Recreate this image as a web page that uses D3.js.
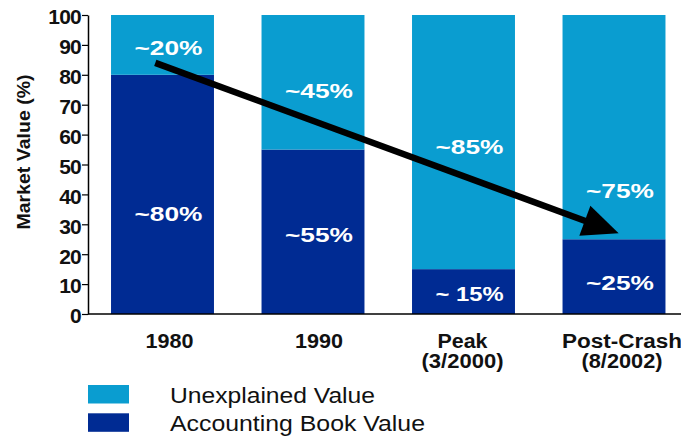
<!DOCTYPE html>
<html>
<head>
<meta charset="utf-8">
<script src="https://cdn.jsdelivr.net/npm/d3@7"></script>
<style>
  html, body { margin: 0; padding: 0; background: #fff; }
  svg { display: block; }
  text { font-family: "Liberation Sans", Arial, Helvetica, sans-serif; }
</style>
</head>
<body>
<svg id="chart" width="681" height="437"></svg>
<script>
// ---- data ----
const categories = ["1980", "1990", "Peak", "Post-Crash"];
const categoryLines = [["1980"], ["1990"], ["Peak", "(3/2000)"], ["Post-Crash", "(8/2002)"]];
const bookValue = [80, 55, 15, 25];
const unexplainedValue = [20, 45, 85, 75];
const bookLabels = ["~80%", "~55%", "~ 15%", "~25%"];
const unexplainedLabels = ["~20%", "~45%", "~85%", "~75%"];
const bookLabelAt = [33.6, 26.4, 6.9, 10.4];
const unexplainedLabelAt = [89.1, 74.7, 56.0, 41.1];
const yTicks = [0, 10, 20, 30, 40, 50, 60, 70, 80, 90, 100];
const seriesNames = ["Unexplained Value", "Accounting Book Value"];
const yTitle = "Market Value (%)";
const arrowFrom = { cat: "1980", value: 84 };
const arrowTo = { cat: "Post-Crash", value: 27 };

// ---- styles ----
const colLight = "#0a9dd0";
const colDark = "#002b93";

const svg = d3.select("#chart");

const x = d3.scaleBand()
  .domain(categories)
  .range([88, 688.5])
  .paddingInner(0.316)
  .paddingOuter(0.153);

const y = d3.scaleLinear().domain([0, 100]).range([314, 15]);

const rows = categories.map((c, i) => ({ cat: c, book: bookValue[i], unexp: unexplainedValue[i] }));
const stack = d3.stack().keys(["book", "unexp"]);
const series = stack(rows);
const colors = { book: colDark, unexp: colLight };

// bars
svg.append("g").selectAll("g")
  .data(series)
  .join("g")
  .attr("fill", d => colors[d.key])
  .selectAll("rect")
  .data(d => d)
  .join("rect")
  .attr("x", d => x(d.data.cat))
  .attr("width", x.bandwidth())
  .attr("y", d => y(d[1]))
  .attr("height", d => y(d[0]) - y(d[1]));

// value labels
const labelOffset = 6;
function addLabels(labels, at) {
  svg.append("g").selectAll("text")
    .data(categories)
    .join("text")
    .attr("x", c => x(c) + x.bandwidth() / 2 + labelOffset)
    .attr("y", (c, i) => y(at[i]))
    .attr("dy", "0.36em")
    .attr("text-anchor", "middle")
    .attr("fill", "#fff")
    .attr("font-weight", "bold")
    .attr("font-size", 20)
    .attr("textLength", 68)
    .attr("lengthAdjust", "spacingAndGlyphs")
    .text((c, i) => labels[i]);
}
addLabels(unexplainedLabels, unexplainedLabelAt);
addLabels(bookLabels, bookLabelAt);

// arrow
const ax1 = x(arrowFrom.cat) + x.bandwidth() * 0.43, ay1 = y(arrowFrom.value);
const ax2 = x(arrowTo.cat) + x.bandwidth() * 0.545, ay2 = y(arrowTo.value);
const ang = Math.atan2(ay2 - ay1, ax2 - ax1);
const headLen = 36, headHalf = 16;
const bx = ax2 - headLen * Math.cos(ang), by = ay2 - headLen * Math.sin(ang);
svg.append("line")
  .attr("x1", ax1).attr("y1", ay1)
  .attr("x2", bx + 2 * Math.cos(ang)).attr("y2", by + 2 * Math.sin(ang))
  .attr("stroke", "#000").attr("stroke-width", 6.5);
svg.append("polygon")
  .attr("points", [
    [ax2, ay2],
    [bx - headHalf * Math.sin(ang), by + headHalf * Math.cos(ang)],
    [bx + headHalf * Math.sin(ang), by - headHalf * Math.cos(ang)]
  ].map(p => p.join(",")).join(" "))
  .attr("fill", "#000");

// y axis
const yAxis = svg.append("g")
  .attr("transform", "translate(88,0)")
  .call(d3.axisLeft(y).tickValues(yTicks).tickSize(6).tickSizeOuter(0).tickPadding(1).tickFormat(d3.format("d")));
yAxis.select(".domain").attr("stroke", "#000").attr("stroke-width", 1.5);
yAxis.selectAll(".tick line").attr("stroke", "#000").attr("stroke-width", 1.2);
yAxis.selectAll(".tick text")
  .attr("font-family", "'Liberation Sans', Arial, sans-serif")
  .attr("font-size", 21)
  .attr("font-weight", "bold")
  .attr("letter-spacing", -0.8)
  .attr("fill", "#111")
  .attr("dy", "0.42em");

// x axis line
svg.append("line")
  .attr("x1", 88).attr("x2", 681)
  .attr("y1", y(0)).attr("y2", y(0))
  .attr("stroke", "#000").attr("stroke-width", 1.5);

// x category labels
const lineWidths = { "1980": 48, "1990": 48, "Peak": 50, "(3/2000)": 82, "Post-Crash": 120, "(8/2002)": 81 };
const catShift = [7, 6, -1, 8];
categories.forEach((c, i) => {
  categoryLines[i].forEach((ln, j) => {
    svg.append("text")
      .attr("x", x(c) + x.bandwidth() / 2 + catShift[i])
      .attr("y", 348 + j * 20)
      .attr("text-anchor", "middle")
      .attr("font-weight", "bold")
      .attr("font-size", 20)
      .attr("fill", "#111")
      .attr("textLength", lineWidths[ln])
      .attr("lengthAdjust", "spacingAndGlyphs")
      .text(ln);
  });
});

// y title
svg.append("text")
  .attr("transform", "translate(30,152) rotate(-90)")
  .attr("text-anchor", "middle")
  .attr("font-weight", "bold")
  .attr("font-size", 18)
  .attr("fill", "#111")
  .attr("textLength", 155)
  .attr("lengthAdjust", "spacingAndGlyphs")
  .text(yTitle);

// legend
const legendColors = [colLight, colDark];
const legendTextWidths = [205, 255];
seriesNames.forEach((n, i) => {
  svg.append("rect")
    .attr("x", 88).attr("y", 385 + i * 28.3)
    .attr("width", 41).attr("height", 18.5)
    .attr("fill", legendColors[i]);
  svg.append("text")
    .attr("x", 170).attr("y", 403 + i * 28.3)
    .attr("font-size", 22)
    .attr("fill", "#111")
    .attr("textLength", legendTextWidths[i])
    .attr("lengthAdjust", "spacingAndGlyphs")
    .text(n);
});
</script>
</body>
</html>
